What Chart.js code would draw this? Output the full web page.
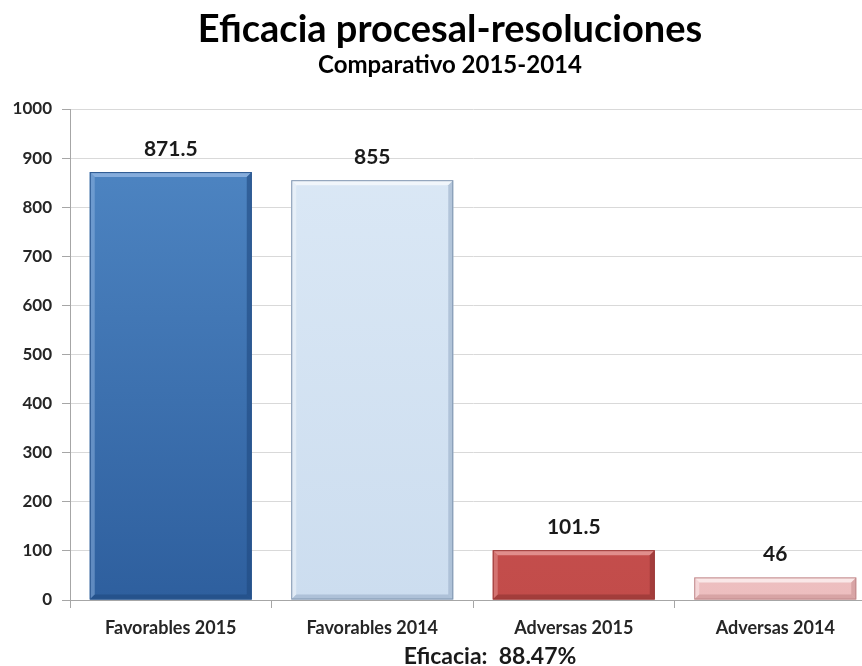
<!DOCTYPE html>
<html><head><meta charset="utf-8">
<script src="https://cdn.jsdelivr.net/npm/chart.js@4/dist/chart.umd.min.js"></script>
<style>html,body{margin:0;padding:0;background:#fff;overflow:hidden;width:862px;height:666px}#wrap{position:absolute;left:0;top:0;width:900px;height:666px}</style>
</head><body><div id="wrap"><canvas id="c" width="900" height="666"></canvas></div>
<script>
const categories = ["Favorables 2015", "Favorables 2014", "Adversas 2015", "Adversas 2014"];
const values = [871.5, 855, 101.5, 46];
const valueLabels = ["871.5", "855", "101.5", "46"];
const yTicks = [0,100,200,300,400,500,600,700,800,900,1000];
const titleText = "Eficacia procesal-resoluciones";
const subtitleText = "Comparativo 2015-2014";
const xTitleText = "Eficacia:  88.47%";

const barStyles = [
  {top:'#5189C6', bottom:'#2E5F9E', light:'#8FB4E0', dark:'#1F4A80', border:'#2A568F'},
  {top:'#DCE9F6', bottom:'#CCDDEF', light:'#F4F8FC', dark:'#9AAFC8', border:'#8196B0'},
  {top:'#D0585A', bottom:'#C24C4A', light:'#E69A98', dark:'#8E3432', border:'#9C3A38'},
  {top:'#F6D0D2', bottom:'#EDBEBF', light:'#FCEEEF', dark:'#C99294', border:'#C08A8C'}
];

const centerTitles = {
  id:'centerTitles',
  afterLayout(chart){
    chart.boxes.forEach(b=>{
      if (b.position === 'top' && b.fullSize && typeof b._drawArgs === 'function') { b.left = 24; }
    });
  }
};

const bevelPlugin = {
  id:'bevel',
  afterDatasetsDraw(chart){
    const ctx = chart.ctx;
    const meta = chart.getDatasetMeta(0);
    meta.data.forEach((bar,i)=>{
      const st = barStyles[i];
      const l = bar.x - bar.width/2, r = bar.x + bar.width/2, t = bar.y, b = bar.base;
      const d = Math.min(5, (b-t)/3);
      ctx.save();
      ctx.fillStyle = st.light; ctx.globalAlpha = 0.85;
      ctx.beginPath(); ctx.moveTo(l,t); ctx.lineTo(r,t); ctx.lineTo(r-d,t+d); ctx.lineTo(l+d,t+d); ctx.closePath(); ctx.fill();
      ctx.globalAlpha = 0.5;
      ctx.beginPath(); ctx.moveTo(l,t); ctx.lineTo(l+d,t+d); ctx.lineTo(l+d,b-d); ctx.lineTo(l,b); ctx.closePath(); ctx.fill();
      ctx.fillStyle = st.dark; ctx.globalAlpha = 0.6;
      ctx.beginPath(); ctx.moveTo(r,t); ctx.lineTo(r,b); ctx.lineTo(r-d,b-d); ctx.lineTo(r-d,t+d); ctx.closePath(); ctx.fill();
      ctx.beginPath(); ctx.moveTo(l,b); ctx.lineTo(r,b); ctx.lineTo(r-d,b-d); ctx.lineTo(l+d,b-d); ctx.closePath(); ctx.fill();
      ctx.globalAlpha = 1;
      ctx.strokeStyle = st.border; ctx.lineWidth = 1;
      ctx.strokeRect(l+0.5,t+0.5,r-l-1,b-t-1);
      ctx.restore();
      ctx.save();
      ctx.fillStyle = '#1a1a1a';
      ctx.font = 'bold 21px Lato';
      ctx.textAlign = 'center'; ctx.textBaseline = 'alphabetic';
      ctx.fillText(valueLabels[i], bar.x, t - 16);
      ctx.restore();
    });
    const a = chart.chartArea;
    ctx.save();
    ctx.fillStyle = '#1a1a1a';
    ctx.font = 'bold 23px Lato';
    ctx.textAlign = 'center'; ctx.textBaseline = 'alphabetic';
    ctx.fillText(xTitleText, (a.left + a.right)/2 + 17, a.bottom + 64);
    ctx.restore();
  }
};

new Chart(document.getElementById('c'), {
  type:'bar',
  data:{
    labels: categories,
    datasets:[{
      data: values,
      backgroundColor(ctx){
        const chart = ctx.chart; const a = chart.chartArea;
        if(!a) return barStyles[ctx.dataIndex].top;
        const st = barStyles[ctx.dataIndex];
        const el = ctx.element;
        const top = el && isFinite(el.y) ? el.y : a.top;
        const g = chart.ctx.createLinearGradient(0, top, 0, a.bottom);
        g.addColorStop(0, st.top); g.addColorStop(1, st.bottom);
        return g;
      },
      borderWidth:0,
      categoryPercentage:1,
      barPercentage:0.804
    }]
  },
  options:{
    responsive:false,
    animation:false,
    layout:{padding:{left:0,right:24,top:0,bottom:0}},
    plugins:{
      legend:{display:false},
      tooltip:{enabled:false},
      title:{display:true,text:titleText,color:'#000',font:{family:'Lato',size:38,weight:'bold',lineHeight:1.0},padding:{top:11,bottom:0}},
      subtitle:{display:true,text:subtitleText,color:'#000',font:{family:'Lato',size:24,weight:'bold',lineHeight:1.0},padding:{top:4,bottom:32}}
    },
    scales:{
      y:{
        min:0,max:1000,
        afterBuildTicks(s){ s.ticks = yTicks.map(v=>({value:v})); },
        afterFit(s){ s.width = 70; },
        ticks:{color:'#262626',font:{family:'Lato',size:17,weight:'bold'},padding:10,callback:(v)=>String(v)},
        grid:{color:'#D9D9D9',lineWidth:1,tickLength:8,tickColor:'#A6A6A6',drawTicks:true},
        border:{display:true,color:'#A6A6A6',width:1}
      },
      x:{
        offset:true,
        afterFit(s){ s.height = 66; },
        ticks:{color:'#262626',font:{family:'Lato',size:18,weight:'bold'},padding:9},
        grid:{drawOnChartArea:false,offset:true,tickLength:8,tickColor:'#A6A6A6'},
        border:{display:true,color:'#A6A6A6',width:1}
      }
    }
  },
  plugins:[centerTitles, bevelPlugin]
});
</script></body></html>
